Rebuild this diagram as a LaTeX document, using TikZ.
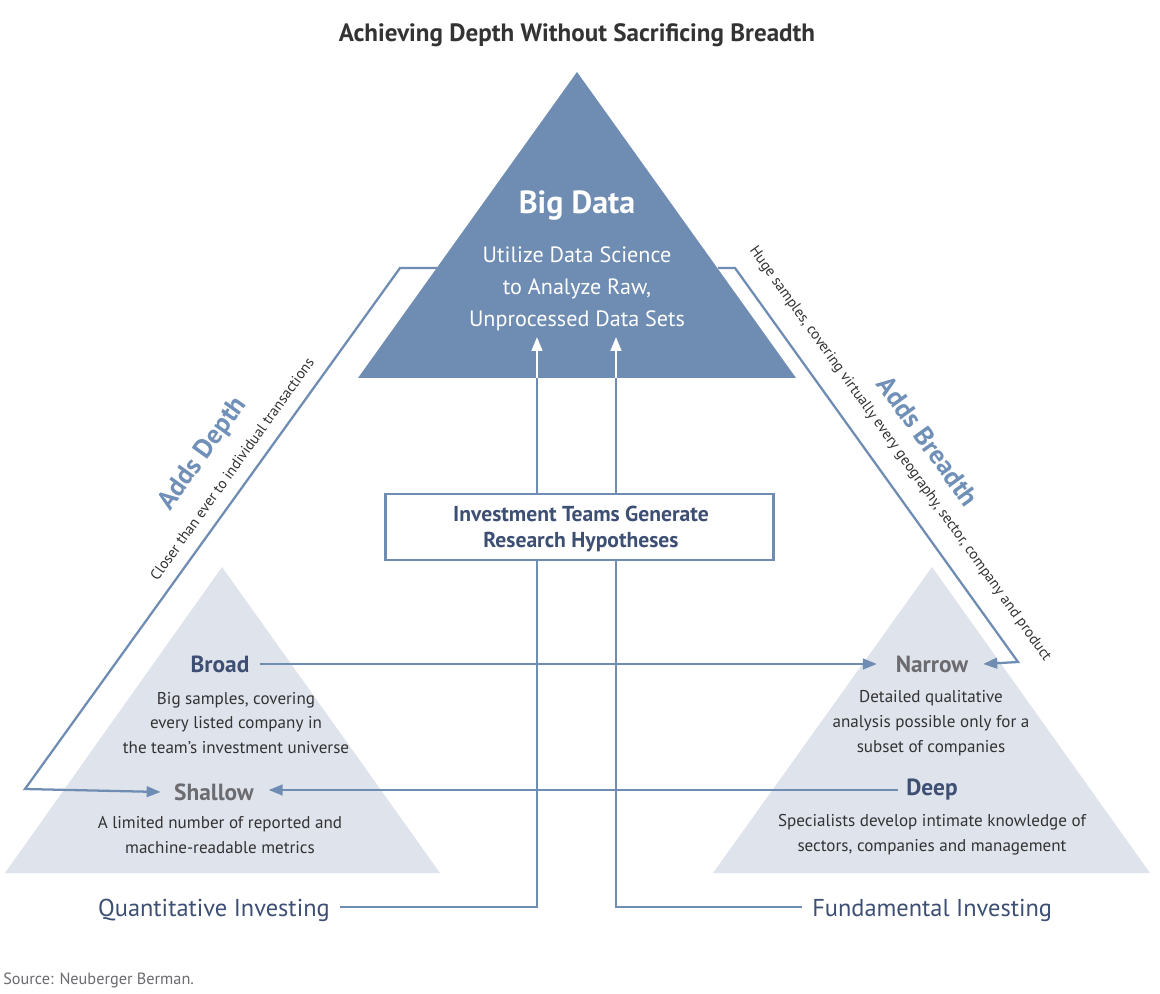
\documentclass[tikz,border=0pt]{standalone}
\usepackage{fontspec}
\setmainfont{PT Sans}
\usetikzlibrary{arrows.meta}
\definecolor{lineblue}{HTML}{6F8DB3}
\definecolor{bigblue}{HTML}{6F8DB3}
\definecolor{lightfill}{HTML}{DFE3EC}
\definecolor{darkblue}{HTML}{3D4F73}
\definecolor{greytxt}{HTML}{6B6B70}
\definecolor{bodytxt}{HTML}{333333}
\definecolor{addsblue}{HTML}{7090B8}
\tikzset{
  conn/.style={draw=lineblue, line width=1.7pt},
  arr/.style={conn, -{Triangle[length=10.5pt, width=8pt]}},
  warr/.style={draw=white, line width=1.7pt, -{Triangle[length=10.5pt, width=8pt]}},
  head/.style={font=\bfseries\fontsize{17.5}{20}\selectfont, inner sep=0pt},
  body/.style={font=\fontsize{12.8}{18.5}\selectfont, text=bodytxt, align=center, inner sep=0pt},
  bottom/.style={font=\fontsize{18.3}{22}\selectfont, text=darkblue, inner sep=0pt},
  adds/.style={font=\bfseries\fontsize{20}{22}\selectfont, text=addsblue, inner sep=0pt},
  small/.style={font=\fontsize{11.2}{13}\selectfont, text=bodytxt, inner sep=0pt},
}
\begin{document}
\begin{tikzpicture}[x=0.75pt, y=-0.75pt]
\useasboundingbox[fill=white] (0,0) rectangle (1160,994);
% title
\node[font=\bfseries\fontsize{18.8}{22}\selectfont, text=bodytxt] (title) at (577,35) {Achieving Depth Without Sacrificing Breadth};
% light triangles
\fill[lightfill] (222,567) -- (5,873) -- (440,873) -- cycle;
\fill[lightfill] (932,567) -- (713,873) -- (1150,873) -- cycle;
% big triangle
\fill[bigblue] (577,72) -- (358,378) -- (796,378) -- cycle;
% coordinates
\coordinate (lt1) at (437,268);
\coordinate (lt2) at (400,268);
\coordinate (lb) at (25,789);
\coordinate (rt1) at (718,268);
\coordinate (rt2) at (735,268);
\coordinate (rb) at (1018,662);
\coordinate (vlb) at (537,907);
\coordinate (vrb) at (616,907);
\coordinate (vlt) at (537,337);
\coordinate (vrt) at (616,337);
\coordinate (vlm) at (537,378);
\coordinate (vrm) at (616,378);
% texts
\node[font=\bfseries\fontsize{24}{28}\selectfont, text=white] (bigdata) at (577,206) {Big Data};
\node[font=\fontsize{16.6}{24}\selectfont, text=white, align=center] (util) at (577,289) {Utilize Data Science\\to Analyze Raw,\\Unprocessed Data Sets};
\node[head, text=darkblue, anchor=center] (broad) at (220,664) {Broad};
\node[body] (broadtxt) at (236,723) {Big samples, covering\\every listed company in\\the team's investment universe};
\node[head, text=greytxt] (shallow) at (214,792) {Shallow};
\node[body] (shallowtxt) at (220,835) {A limited number of reported and\\machine-readable metrics};
\node[head, text=greytxt] (narrow) at (932,664) {Narrow};
\node[body] (narrowtxt) at (931,723) {Detailed qualitative\\analysis possible only for a\\subset of companies};
\node[head, text=darkblue] (deep) at (932,790) {Deep};
\node[body] (deeptxt) at (932,835) {Specialists develop intimate knowledge of\\sectors, companies and management};
\node[bottom, anchor=east] (quant) at (330,910) {Quantitative Investing};
\node[bottom, anchor=west] (fund) at (812,910) {Fundamental Investing};
\node[font=\fontsize{12.2}{14}\selectfont, text=greytxt, anchor=west, inner sep=0pt] (src) at (3,980) {Source: Neuberger Berman.};
\node[adds, rotate=54.3] (addsdepth) at (203,454) {Adds Depth};
\node[small, rotate=54.3] (closer) at (232,469) {Closer than ever to individual transactions};
\node[adds, rotate=-54.3] (addsbreadth) at (928,441) {Adds Breadth};
\node[small, rotate=-54.3] (huge) at (900,454) {Huge samples, covering virtually every geography, sector, company and product};
% vertical arrows
\draw[warr] (vlm) -- (vlt);
\draw[warr] (vrm) -- (vrt);
\draw[conn] (quant.east) ++(10,-3) coordinate (qe) -- (vlb) -- (vlm);
\draw[conn] (fund.west) ++(-10,-3) coordinate (fw) -- (vrb) -- (vrm);
% box
\node[draw=lineblue, line width=1.7pt, fill=white, minimum width=291pt, minimum height=50pt] (box) at (579.5,527) {};
\node[align=center, font=\bfseries\fontsize{16.2}{19}\selectfont, text=darkblue, inner sep=0pt] (boxtxt) at (581,529) {Investment Teams Generate\\Research Hypotheses};
% outline paths
\draw[arr] (lt1) -- (lt2) -- (lb) -- ([xshift=-10pt]shallow.west);
\draw[arr] (rt1) -- (rt2) -- (rb) -- ([xshift=11pt]narrow.east);
% horizontal arrows
\draw[arr] ([xshift=8pt]broad.east) -- ([xshift=-14pt]narrow.west);
\draw[arr] ([xshift=-6pt]deep.west) -- ([xshift=11pt,yshift=1.5pt]shallow.east);
\end{tikzpicture}
\end{document}
